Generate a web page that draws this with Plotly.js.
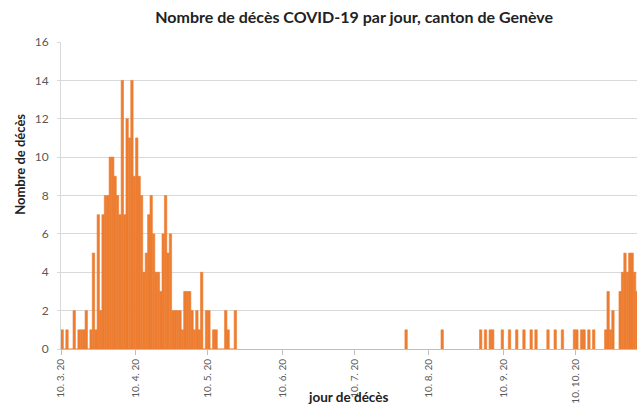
<!DOCTYPE html>
<html><head><meta charset="utf-8">
<script src="https://cdn.plot.ly/plotly-3.0.1.min.js"></script>
<style>html,body{margin:0;padding:0;background:#fff;}#chart{width:637px;height:405px;}</style>
</head><body><div id="chart"></div>
<script>
// Daily deaths, consecutive days starting 10 March 2020
const firstDay = '2020-03-10';
const dailyDeathsSpring = [
  1,0,1,0,0,2,0,1,1,1,
  2,0,1,5,1,7,2,7,8,8,
  10,10,9,8,7,14,7,12,11,14,
  9,11,9,8,4,5,7,8,6,4,
  4,3,6,8,5,6,2,2,2,2,
  1,3,3,3,2,1,2,1,4,0,
  2,2,0,1,1,0,0,0,2,1,
  0,0,2
];
// Later deaths (summer / autumn), by date
const laterDates = [
  '2020-07-31','2020-08-15','2020-08-31','2020-09-02','2020-09-04','2020-09-05',
  '2020-09-09','2020-09-12','2020-09-15','2020-09-18','2020-09-21','2020-09-23',
  '2020-09-28','2020-10-01','2020-10-04','2020-10-09','2020-10-10','2020-10-12',
  '2020-10-13','2020-10-15','2020-10-17','2020-10-22','2020-10-23','2020-10-24',
  '2020-10-25','2020-10-28','2020-10-29','2020-10-30','2020-10-31','2020-11-01',
  '2020-11-02','2020-11-03','2020-11-04'
];
const laterDeaths = [
  1,1,1,1,1,1,
  1,1,1,1,1,1,
  1,1,1,1,1,1,
  1,1,1,1,3,1,
  2,3,4,5,4,5,
  5,4,3
];
const titleText = 'Nombre de décès COVID-19 par jour, canton de Genève';
const yTitleText = 'Nombre de décès';
const xTitleText = 'jour de décès';
const yTickValues = [0,2,4,6,8,10,12,14,16];

const DAY = 86400000;
const barColor = '#ED7D31';
const font = 'Lato, "Liberation Sans", sans-serif';

const traces = [
  {type:'bar', x0:firstDay, dx:DAY, y:dailyDeathsSpring,
   offset:0, width:DAY, marker:{color:barColor, line:{color:barColor, width:0.6}}, hoverinfo:'x+y'},
  {type:'bar', x:laterDates, y:laterDeaths,
   offset:0, width:DAY, marker:{color:barColor, line:{color:barColor, width:0.6}}, hoverinfo:'x+y'}
];

const layout = {
  width:637, height:405,
  margin:{l:61, r:0, t:42, b:56},
  paper_bgcolor:'#ffffff', plot_bgcolor:'#ffffff',
  showlegend:false, barmode:'overlay',
  font:{family:font, color:'#595959'},
  title:{text:titleText, font:{family:font, size:16, color:'#222222', weight:'bold'},
         x:0.556, xref:'container', xanchor:'center', y:0.957, yref:'container', yanchor:'middle'},
  xaxis:{type:'date', range:['2020-03-10','2020-11-04 12:00'], tick0:'2020-03-10', dtick:'M1',
         tickformat:'%-d. %-m. %y', tickangle:-90, ticks:'outside', ticklen:5, tickcolor:'#bfbfbf',
         showline:true, linecolor:'#bfbfbf', linewidth:1, showgrid:false, zeroline:false,
         tickfont:{size:10, color:'#595959', family:font}, fixedrange:true},
  yaxis:{range:[0,16], tickvals:yTickValues, ticktext:yTickValues.map(String), showgrid:true, gridcolor:'#d9d9d9', gridwidth:1,
         showline:true, linecolor:'#d9d9d9', ticks:'outside', ticklen:3, tickcolor:'#d9d9d9',
         zeroline:false, tickfont:{size:12, color:'#595959', family:font}, ticklabelstandoff:6, fixedrange:true},
  annotations:[
    {text:yTitleText, xref:'paper', yref:'paper', x:-0.0712, y:0.603, textangle:-90,
     showarrow:false, xanchor:'center', yanchor:'middle', font:{family:font, size:13, color:'#222222', weight:'bold'}},
    {text:xTitleText, xref:'paper', yref:'paper', x:0.498, y:-0.157,
     showarrow:false, xanchor:'center', yanchor:'middle', font:{family:font, size:13.5, color:'#222222', weight:'bold'}}
  ]
};
Plotly.newPlot('chart', traces, layout, {displayModeBar:false, staticPlot:true});
</script>
</body></html>
